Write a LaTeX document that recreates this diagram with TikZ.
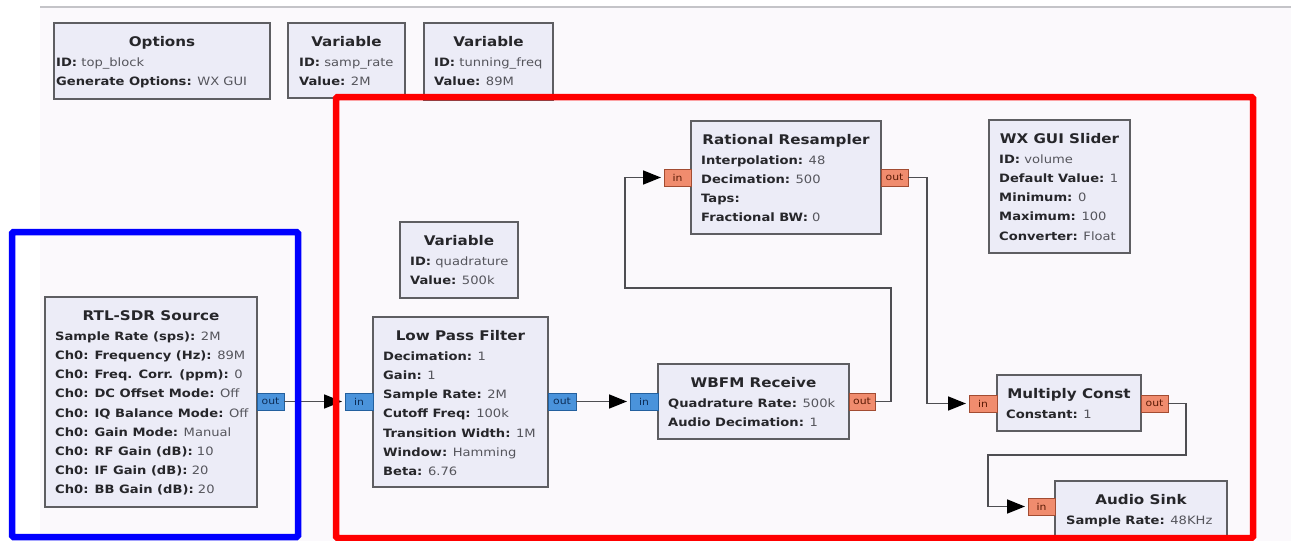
\documentclass[tikz,border=0pt]{standalone}
\usepackage{fontspec}
\setmainfont{DejaVu Sans}[FakeStretch=1.14]
\usetikzlibrary{arrows.meta,calc}
\definecolor{bgc}{HTML}{FBF9FC}
\definecolor{topc}{HTML}{C4C4C8}
\definecolor{blkfill}{HTML}{ECECF7}
\definecolor{blkdraw}{HTML}{5E5E62}
\definecolor{keyc}{HTML}{26262A}
\definecolor{valc}{HTML}{55555C}
\definecolor{bluefill}{HTML}{4A93DB}
\definecolor{bluedraw}{HTML}{23609E}
\definecolor{bluetext}{HTML}{0C2C55}
\definecolor{orfill}{HTML}{F08C6E}
\definecolor{ordraw}{HTML}{A24C32}
\definecolor{ortext}{HTML}{5A1A05}
\definecolor{connc}{HTML}{4E4E52}
\newcommand\kk[1]{{\bfseries\color{keyc}#1}}
\newcommand\blk[8]{%
  \node[blkbox, anchor=north west, minimum width={(#4-#2)*1pt}, minimum height={(#5-#3)*1pt}] (#1) at (#2,#3) {};
  \node[ttl, anchor=base] (#1-title) at ({(#2+#4)/2},{#3+18.5+4.8}) {#6};
  \foreach \t [count=\i] in {#8}
    \node[body, anchor=base west] (#1-l\i) at (#7,{#3+39+4.2+19.2*(\i-1)}) {\t};
}
\newcommand\port[7]{%
  \node[#6, anchor=north west, minimum width={(#4-#2)*1pt}, minimum height={(#5-#3)*1pt}] (#1) at (#2,#3) {#7};
}
\begin{document}
\begin{tikzpicture}[x=1pt,y=-1pt,
  blkbox/.style={draw=blkdraw, fill=blkfill, line width=1.8pt, inner sep=0pt, outer sep=0pt},
  ttl/.style={font=\fontsize{13.3}{14}\selectfont\bfseries, text=keyc, inner sep=0pt},
  body/.style={font=\fontsize{11.5}{12}\selectfont, text=valc, inner sep=0pt},
  blueport/.style={draw=bluedraw, fill=bluefill, line width=1pt, inner sep=0pt, outer sep=0pt, text=bluetext, font=\fontsize{9.5}{9.5}\selectfont},
  orport/.style={draw=ordraw, fill=orfill, line width=1pt, inner sep=0pt, outer sep=0pt, text=ortext, font=\fontsize{9.5}{9.5}\selectfont},
  conn/.style={draw=connc, line width=1.6pt},
  arr/.style={-{Triangle[length=18pt,width=14pt,color=black]}, shorten >=3pt},
  hl/.style={line width=6.5pt, rounded corners=1.5pt}
]
\useasboundingbox (0,0) rectangle (1291,541);
\fill[white] (0,0) rectangle (1291,541);
\fill[bgc] (40,8) rectangle (1291,541);
\draw[topc, line width=2pt] (40,7) -- (1291,7);

% blocks
\blk{opt}{54}{23}{270}{99}{Options}{56}{{\kk{ID:} top\_block},{\kk{Generate Options:} WX GUI}}
\blk{vsr}{288}{23}{405}{98}{Variable}{299}{{\kk{ID:} samp\_rate},{\kk{Value:} 2M}}
\blk{vtf}{424}{23}{553}{100}{Variable}{434}{{\kk{ID:} tunning\_freq},{\kk{Value:} 89M}}
\blk{rtl}{45}{297}{257}{507}{RTL-SDR Source}{55}{{\kk{Sample Rate (sps):} 2M},{\kk{Ch0: Frequency (Hz):} 89M},{\kk{Ch0: Freq. Corr. (ppm):} 0},{\kk{Ch0: DC Offset Mode:} Off},{\kk{Ch0: IQ Balance Mode:} Off},{\kk{Ch0: Gain Mode:} Manual},{\kk{Ch0: RF Gain (dB):} 10},{\kk{Ch0: IF Gain (dB):} 20},{\kk{Ch0: BB Gain (dB):} 20}}
\blk{vq}{400}{222}{518}{298}{Variable}{410}{{\kk{ID:} quadrature},{\kk{Value:} 500k}}
\blk{lpf}{373}{317}{548}{487}{Low Pass Filter}{383}{{\kk{Decimation:} 1},{\kk{Gain:} 1},{\kk{Sample Rate:} 2M},{\kk{Cutoff Freq:} 100k},{\kk{Transition Width:} 1M},{\kk{Window:} Hamming},{\kk{Beta:} 6.76}}
\blk{wb}{658}{364}{849}{439}{WBFM Receive}{668}{{\kk{Quadrature Rate:} 500k},{\kk{Audio Decimation:} 1}}
\blk{rr}{691}{121}{881}{234}{Rational Resampler}{701}{{\kk{Interpolation:} 48},{\kk{Decimation:} 500},{\kk{Taps:}},{\kk{Fractional BW:} 0}}
\blk{sl}{989}{120}{1130}{253}{WX GUI Slider}{999}{{\kk{ID:} volume},{\kk{Default Value:} 1},{\kk{Minimum:} 0},{\kk{Maximum:} 100},{\kk{Converter:} Float}}
\blk{mc}{997}{375}{1141}{431}{Multiply Const}{1006}{{\kk{Constant:} 1}}
\blk{as}{1055}{481}{1227}{537}{Audio Sink}{1066}{{\kk{Sample Rate:} 48KHz}}

% ports
\port{rtlo}{257}{393}{284}{410}{blueport}{out}
\port{lpfi}{345}{393}{373}{410}{blueport}{in}
\port{lpfo}{548}{393}{576}{410}{blueport}{out}
\port{wbi}{630}{393}{658}{410}{blueport}{in}
\port{wbo}{849}{393}{875}{410}{orport}{out}
\port{rri}{664}{169}{691}{186}{orport}{in}
\port{rro}{881}{169}{908}{186}{orport}{out}
\port{mci}{969}{395}{997}{412}{orport}{in}
\port{mco}{1141}{395}{1168}{412}{orport}{out}
\port{asi}{1028}{498}{1055}{515}{orport}{in}

% bend points
\coordinate (b1) at (891,288);
\coordinate (b2) at (625,177.5);
\coordinate (b3) at (927,403.5);
\coordinate (b4) at (1186,455);
\coordinate (b5) at (988,506.5);

% connections
\draw[conn,arr] (rtlo.east) -- (lpfi.west);
\draw[conn,arr] (lpfo.east) -- (wbi.west);
\draw[conn,arr] (wbo.east) -| (b1) -| (b2) -- (rri.west);
\draw[conn,arr] (rro.east) -| (b3) -- (mci.west);
\draw[conn,arr] (mco.east) -| (b4) -| (b5) -- (asi.west);

% highlight frames
\draw[hl, draw=blue] (12,232) rectangle (298,537);
\draw[hl, draw=red] (336,97) rectangle (1253,538);
\end{tikzpicture}
\end{document}
